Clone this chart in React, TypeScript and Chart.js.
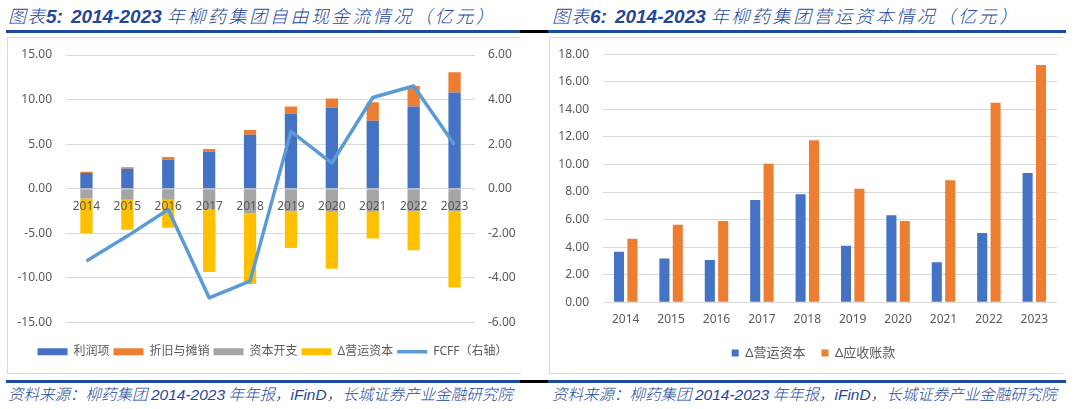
import React, { useRef, useEffect } from 'react';
import { Chart, registerables, Plugin } from 'chart.js';

// Register all Chart.js components
Chart.register(...registerables);

// ---- data (亿元) ----
const years = ['2014', '2015', '2016', '2017', '2018', '2019', '2020', '2021', '2022', '2023'];

// 图表5: 自由现金流
const profitItem = [1.76, 2.24, 3.28, 4.18, 6.05, 8.4, 9.07, 7.61, 9.22, 10.79];
const deprAmort = [0.14, 0.15, 0.27, 0.26, 0.52, 0.82, 1.04, 2.09, 2.31, 2.27];
const capex = [-1.1, -1.25, -1.25, -2.3, -2.75, -2.55, -2.6, -2.6, -2.55, -2.55];
const workingCapChange = [-3.9, -3.35, -3.15, -7.05, -7.95, -4.1, -6.4, -3.0, -4.35, -8.55];
const fcff = [-3.25, -2.13, -0.94, -4.9, -4.15, 2.57, 1.15, 4.09, 4.61, 1.97];

// 图表6: 营运资本
const wcDelta = [3.67, 3.17, 3.07, 7.42, 7.84, 4.11, 6.31, 2.9, 5.03, 9.38];
const arDelta = [4.62, 5.63, 5.9, 10.06, 11.76, 8.24, 5.9, 8.85, 14.49, 17.22];

const FONT = '"Noto Sans", "Noto Sans CJK SC", sans-serif';
const CJK = '"Noto Sans CJK SC", "Noto Sans", sans-serif';
const LATIN = '"Liberation Sans", Arial, sans-serif';
const TEXT = '#595959';
const GRID = '#d9d9d9';
const INK = '#24479a';
const RULE = '#1c4a9e';
const NONE = 'rgba(0,0,0,0)';

const two = (v: number | string) => Number(v).toFixed(2);
const tickFont = { family: FONT, size: 12 };

// invisible tick marks keep the labels off the plot without adding top padding
const valueGrid = (gap: number, onArea: boolean) => ({
  color: GRID,
  drawOnChartArea: onArea,
  drawTicks: true,
  tickLength: gap,
  tickColor: NONE,
});

// Excel centres the legend a little right of the canvas centre
const nudgeLegend = (dx: number): Plugin => ({
  id: 'nudgeLegend',
  afterLayout(chart) {
    const legend = (chart as any).legend;
    if (legend) {
      legend.left += dx;
      legend.right += dx;
    }
  },
});

const FcffChart: React.FC = () => {
  const canvasRef = useRef<HTMLCanvasElement | null>(null);

  useEffect(() => {
    if (!canvasRef.current) return;
    const chart = new Chart(canvasRef.current, {
      type: 'bar',
      data: {
        labels: years,
        datasets: [
          { label: '利润项', data: profitItem, backgroundColor: '#4472C4', order: 1 },
          { label: '折旧与摊销', data: deprAmort, backgroundColor: '#ED7D31', order: 1 },
          { label: '资本开支', data: capex, backgroundColor: '#A5A5A5', order: 1 },
          { label: 'Δ营运资本', data: workingCapChange, backgroundColor: '#FFC000', order: 1 },
          {
            type: 'line',
            label: 'FCFF（右轴）',
            data: fcff,
            yAxisID: 'y1',
            borderColor: '#5B9BD5',
            backgroundColor: '#5B9BD5',
            borderWidth: 3.5,
            pointRadius: 0,
            tension: 0,
            borderJoinStyle: 'round',
            order: 0,
          } as any,
        ],
      },
      options: {
        responsive: false,
        animation: false,
        datasets: { bar: { barPercentage: 0.3, categoryPercentage: 1 } },
        layout: { padding: { top: 17, bottom: 5.3, left: 0, right: 0 } },
        plugins: {
          tooltip: { enabled: false },
          legend: {
            position: 'bottom',
            labels: {
              usePointStyle: true,
              pointStyleWidth: 30,
              boxWidth: 30,
              boxHeight: 7,
              padding: 4,
              color: TEXT,
              font: tickFont,
              sort: (a, b) => (a.datasetIndex ?? 0) - (b.datasetIndex ?? 0),
              generateLabels: (c) =>
                Chart.defaults.plugins.legend.labels.generateLabels(c).map((item) => ({
                  ...item,
                  pointStyle: item.datasetIndex === 4 ? 'line' : 'rect',
                  lineWidth: item.datasetIndex === 4 ? 3.5 : 0,
                })),
            },
          },
        },
        scales: {
          x: {
            position: { y: 0 } as any,
            stacked: true,
            grid: { display: false, drawTicks: false },
            border: { display: false },
            ticks: { padding: 10.5, z: 1, color: TEXT, font: tickFont },
          },
          // empty axis that only keeps the legend clear of the plot
          gap: {
            type: 'category',
            position: 'bottom',
            grid: { display: false, drawTicks: false },
            border: { display: false },
            ticks: { display: false },
            afterFit: (s) => { s.height = 19.4; },
          },
          y: {
            position: 'left',
            stacked: true,
            min: -15,
            max: 15,
            ticks: { stepSize: 5, padding: 0, color: TEXT, font: tickFont, callback: (v) => two(v) },
            grid: valueGrid(14, true),
            border: { display: false },
            afterFit: (s) => { s.width = 58; },
          },
          y1: {
            position: 'right',
            min: -6,
            max: 6,
            ticks: { stepSize: 2, padding: 0, color: TEXT, font: tickFont, callback: (v) => two(v) },
            grid: valueGrid(13, false),
            border: { display: false },
            afterFit: (s) => { s.width = 44; },
          },
        },
      },
      plugins: [nudgeLegend(9)],
    });
    return () => chart.destroy();
  }, []);

  return <canvas ref={canvasRef} width={511} height={335} />;
};

const WorkingCapChart: React.FC = () => {
  const canvasRef = useRef<HTMLCanvasElement | null>(null);

  useEffect(() => {
    if (!canvasRef.current) return;
    const chart = new Chart(canvasRef.current, {
      type: 'bar',
      data: {
        labels: years,
        datasets: [
          { label: 'Δ营运资本', data: wcDelta, backgroundColor: '#4472C4' },
          { label: 'Δ应收账款', data: arDelta, backgroundColor: '#ED7D31' },
        ],
      },
      options: {
        responsive: false,
        animation: false,
        datasets: { bar: { barPercentage: 0.75, categoryPercentage: 0.59 } },
        layout: { padding: { top: 16.3, bottom: 3.5, left: 0, right: 4 } },
        plugins: {
          tooltip: { enabled: false },
          legend: {
            position: 'bottom',
            labels: {
              usePointStyle: true,
              pointStyle: 'rect',
              pointStyleWidth: 7,
              boxWidth: 7,
              boxHeight: 7,
              padding: 16,
              color: TEXT,
              font: { family: FONT, size: 13 },
            },
          },
        },
        scales: {
          x: {
            grid: { display: false, drawTicks: false },
            border: { display: false },
            ticks: { padding: 10.5, color: TEXT, font: tickFont },
            afterFit: (s) => { s.height = 28.2; },
          },
          y: {
            min: 0,
            max: 18,
            ticks: { stepSize: 2, padding: 0, color: TEXT, font: tickFont, callback: (v) => two(v) },
            grid: valueGrid(14, true),
            border: { display: false },
            afterFit: (s) => { s.width = 53; },
          },
        },
      },
      plugins: [nudgeLegend(10)],
    });
    return () => chart.destroy();
  }, []);

  return <canvas ref={canvasRef} width={511} height={335} />;
};

const Heading: React.FC<{ left: number; no: string; topic: string }> = ({ left, no, topic }) => (
  <div
    style={{
      position: 'absolute',
      left,
      top: 3,
      fontFamily: CJK,
      fontStyle: 'italic',
      fontWeight: 300,
      fontSize: 18,
      lineHeight: '24px',
      color: INK,
      whiteSpace: 'nowrap',
    }}
  >
    <span style={{ letterSpacing: 1 }}>图表</span>
    <span style={{ fontFamily: LATIN, fontWeight: 700, fontSize: 19 }}>{no}:</span>
    <span style={{ fontFamily: LATIN, fontWeight: 700, fontSize: 19, marginLeft: 8 }}>2014-2023</span>
    <span style={{ letterSpacing: 2.6, marginLeft: 5 }}>{topic}</span>
  </div>
);

const Source: React.FC<{ left: number }> = ({ left }) => (
  <div
    style={{
      position: 'absolute',
      left,
      top: 383,
      fontFamily: CJK,
      fontStyle: 'italic',
      fontWeight: 300,
      fontSize: 15.5,
      lineHeight: '20px',
      color: INK,
      whiteSpace: 'nowrap',
    }}
  >
    资料来源：柳药集团 <span style={{ fontFamily: LATIN, fontWeight: 400 }}>2014-2023</span> 年年报，
    <span style={{ fontFamily: LATIN, fontWeight: 400 }}>iFinD</span>，长城证券产业金融研究院
  </div>
);

const Rule: React.FC<{ top: number }> = ({ top }) => (
  <>
    <div style={{ position: 'absolute', left: 6, top, width: 514, height: 3, background: RULE }} />
    <div style={{ position: 'absolute', left: 520, top, width: 28, height: 3, background: '#000' }} />
    <div style={{ position: 'absolute', left: 548, top, width: 518, height: 3, background: RULE }} />
  </>
);

const boxStyle = (left: number): React.CSSProperties => ({
  position: 'absolute',
  left,
  top: 37,
  width: 513,
  height: 335,
  borderLeft: `1px solid ${GRID}`,
  borderTop: `1px solid ${GRID}`,
  borderBottom: `1px solid ${GRID}`,
});

const App: React.FC = () => (
  <div style={{ position: 'fixed', left: 0, top: 0, width: 1077, height: 409, background: '#fff', overflow: 'hidden' }}>
    <Heading left={8} no="5" topic="年柳药集团自由现金流情况（亿元）" />
    <Heading left={552} no="6" topic="年柳药集团营运资本情况（亿元）" />
    <Rule top={30} />

    <div style={boxStyle(7)}>
      <FcffChart />
    </div>
    <div style={boxStyle(549)}>
      <WorkingCapChart />
    </div>

    <Rule top={380} />
    <Source left={8} />
    <Source left={552} />
  </div>
);

export default App;
